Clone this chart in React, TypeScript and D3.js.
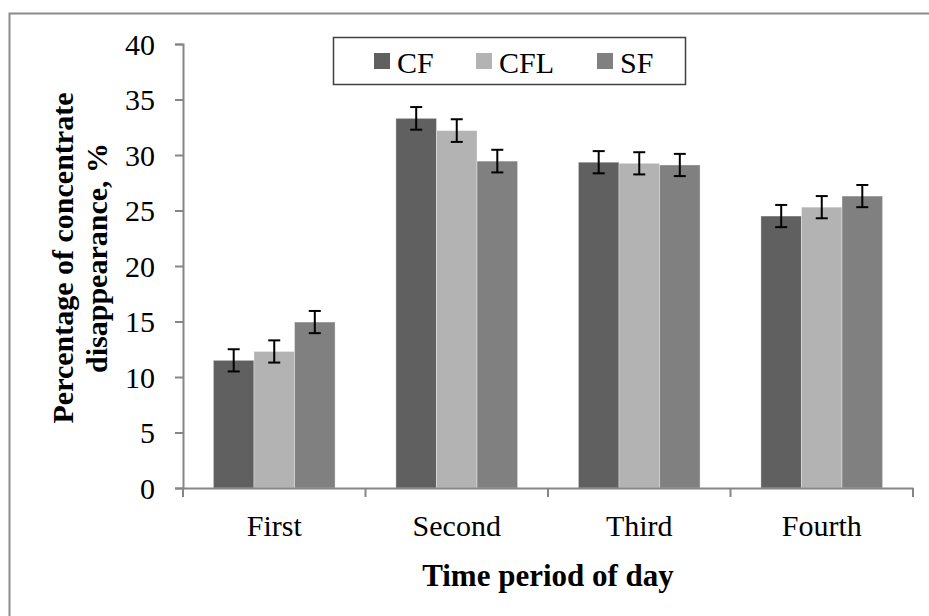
import React, { useEffect, useRef } from "react";
import * as d3 from "d3";

const periods = ["First", "Second", "Third", "Fourth"];
const series = ["CF", "CFL", "SF"];
const colors = ["#606060", "#b3b3b3", "#808080"];
const cfValues = [11.5, 33.3, 29.35, 24.5];
const cflValues = [12.3, 32.2, 29.25, 25.3];
const sfValues = [14.95, 29.45, 29.1, 26.3];
const errValues = [1.0, 1.02, 1.0, 1.0];
const yTicks = [0, 5, 10, 15, 20, 25, 30, 35, 40];

const App = () => {
  const svgRef = useRef<SVGSVGElement>(null);

  useEffect(() => {
    const svg = d3.select(svgRef.current);
    svg.selectAll("*").remove();

    const width = 929;
    const height = 616;
    const left = 183;
    const right = 913;
    const top = 44;
    const bottom = 488;
    const font = "'Liberation Serif', 'Times New Roman', serif";
    const axisColor = "#868686";

    // outer frame (runs off the right and bottom edge)
    svg
      .append("rect")
      .attr("x", 9.5)
      .attr("y", 13.5)
      .attr("width", width + 50)
      .attr("height", height + 50)
      .attr("fill", "white")
      .attr("stroke", "#8c8c8c")
      .attr("stroke-width", 2);

    const x = d3.scaleBand().domain(periods).range([left, right]).paddingInner(0).paddingOuter(0);
    const y = d3.scaleLinear().domain([0, 40]).range([bottom, top]);

    // gap width 150% of a bar
    const groupWidth = x.bandwidth() * (3 / 4.5);
    const x1 = d3
      .scaleBand()
      .domain(series)
      .range([(x.bandwidth() - groupWidth) / 2, (x.bandwidth() + groupWidth) / 2]);

    const values = [cfValues, cflValues, sfValues];
    const data = periods.flatMap((p, i) =>
      series.map((s, j) => ({ period: p, key: s, value: values[j][i], err: errValues[i], color: colors[j] }))
    );

    // bars
    svg
      .append("g")
      .selectAll("rect")
      .data(data)
      .enter()
      .append("rect")
      .attr("x", (d) => x(d.period) + x1(d.key))
      .attr("y", (d) => y(d.value))
      .attr("width", x1.bandwidth())
      .attr("height", (d) => y(0) - y(d.value))
      .attr("fill", (d) => d.color)
      .attr("stroke", "rgba(255,255,255,0.35)")
      .attr("stroke-width", 1);

    // error bars
    const eb = svg.append("g").attr("stroke", "black").attr("stroke-width", 2);
    data.forEach((d) => {
      const cx = x(d.period) + x1(d.key) + x1.bandwidth() / 2;
      eb.append("line").attr("x1", cx).attr("x2", cx).attr("y1", y(d.value + d.err)).attr("y2", y(d.value - d.err));
      eb.append("line").attr("x1", cx - 6).attr("x2", cx + 6).attr("y1", y(d.value + d.err)).attr("y2", y(d.value + d.err));
      eb.append("line").attr("x1", cx - 6).attr("x2", cx + 6).attr("y1", y(d.value - d.err)).attr("y2", y(d.value - d.err));
    });

    // y axis
    const yAxis = svg
      .append("g")
      .attr("transform", `translate(${left},0)`)
      .call(d3.axisLeft(y).tickValues(yTicks).tickSize(8).tickPadding(20));
    yAxis.attr("font-family", null).attr("font-size", null);
    yAxis.select(".domain").attr("stroke", axisColor).attr("stroke-width", 2);
    yAxis.selectAll(".tick line").attr("stroke", axisColor).attr("stroke-width", 2);
    yAxis
      .selectAll(".tick text")
      .attr("fill", "black")
      .style("font-family", font)
      .style("font-size", "30px")
      .attr("dy", "0.34em");

    // x axis
    const xAxis = svg
      .append("g")
      .attr("transform", `translate(0,${bottom})`)
      .call(d3.axisBottom(x).tickSize(0).tickPadding(27));
    xAxis.attr("font-family", null).attr("font-size", null);
    xAxis.select(".domain").attr("stroke", axisColor).attr("stroke-width", 2);
    xAxis
      .selectAll(".tick text")
      .attr("fill", "black")
      .style("font-family", font)
      .style("font-size", "30px")
      .attr("dy", "0.71em");
    const bounds = periods.map((p) => x(p)).concat([right]);
    xAxis
      .selectAll(".bound")
      .data(bounds)
      .enter()
      .append("line")
      .attr("x1", (d) => d)
      .attr("x2", (d) => d)
      .attr("y1", 0)
      .attr("y2", 9)
      .attr("stroke", axisColor)
      .attr("stroke-width", 2);

    // axis titles
    svg
      .append("text")
      .attr("x", (left + right) / 2)
      .attr("y", 586)
      .attr("text-anchor", "middle")
      .style("font-family", font)
      .style("font-weight", "bold")
      .style("font-size", "31px")
      .text("Time period of day");

    const yTitle = svg
      .append("text")
      .attr("transform", "translate(0,258) rotate(-90)")
      .attr("text-anchor", "middle")
      .style("font-family", font)
      .style("font-weight", "bold")
      .style("font-size", "30px");
    yTitle.append("tspan").attr("x", 0).attr("y", 73).text("Percentage of concentrate");
    yTitle.append("tspan").attr("x", 0).attr("y", 107).text("disappearance, %");

    // legend
    const legend = svg.append("g");
    legend
      .append("rect")
      .attr("x", 333.5)
      .attr("y", 37.5)
      .attr("width", 352)
      .attr("height", 47)
      .attr("fill", "white")
      .attr("stroke", "#404040")
      .attr("stroke-width", 1.5);
    const legendX = [374, 476, 597];
    series.forEach((s, i) => {
      legend
        .append("rect")
        .attr("x", legendX[i])
        .attr("y", 53)
        .attr("width", 16)
        .attr("height", 16)
        .attr("fill", colors[i]);
      legend
        .append("text")
        .attr("x", legendX[i] + 23)
        .attr("y", 73)
        .style("font-family", font)
        .style("font-size", "30px")
        .text(s);
    });
  }, []);

  return (
    <div style={{ position: "absolute", left: 0, top: 0 }}>
      <svg ref={svgRef} width={929} height={616} style={{ display: "block" }}></svg>
    </div>
  );
};

export default App;
